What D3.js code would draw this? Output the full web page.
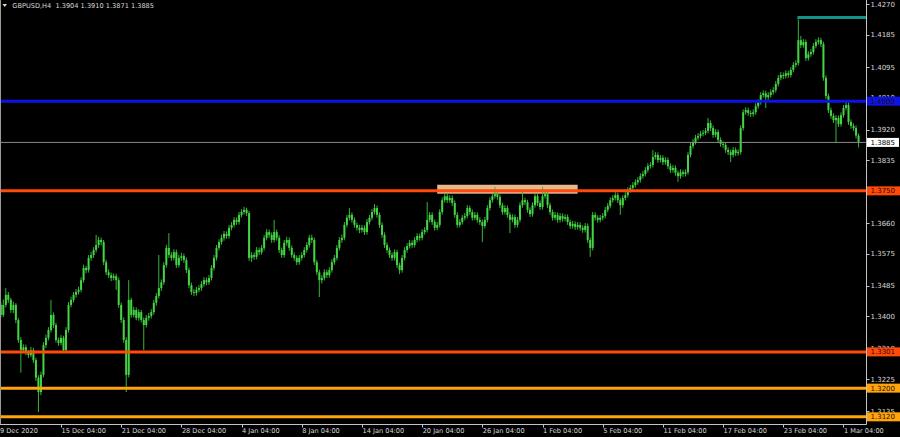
<!DOCTYPE html>
<html><head><meta charset="utf-8">
<script src="https://cdn.jsdelivr.net/npm/d3@7/dist/d3.min.js"></script>
<style>body{margin:0;background:#000;overflow:hidden}svg{display:block}</style>
</head><body>
<svg id="chart" width="900" height="437"></svg>
<script>
// ---- DATA (GBPUSD H4, bar 0 = 9 Dec 2020 00:00) ----
const titleText = "GBPUSD,H4  1.3904 1.3910 1.3871 1.3885";
const open = [
1.3420,1.3432,1.3404,1.3432,1.3460,1.3446,1.3418,1.3432,1.3390,1.3334,
1.3306,1.3314,1.3300,1.3292,1.3306,1.3278,1.3229,1.3189,1.3237,1.3320,
1.3340,1.3362,1.3404,1.3376,1.3334,1.3326,1.3340,1.3306,1.3362,1.3432,
1.3446,1.3460,1.3468,1.3474,1.3501,1.3535,1.3529,1.3563,1.3571,1.3585,
1.3599,1.3613,1.3607,1.3551,1.3523,1.3515,1.3507,1.3512,1.3501,1.3432,
1.3390,1.3334,1.3237,1.3446,1.3404,1.3418,1.3396,1.3412,1.3390,1.3376,
1.3396,1.3401,1.3412,1.3438,1.3457,1.3479,1.3495,1.3543,1.3591,1.3571,
1.3563,1.3579,1.3543,1.3563,1.3568,1.3557,1.3529,1.3487,1.3468,1.3466,
1.3474,1.3479,1.3490,1.3501,1.3495,1.3507,1.3535,1.3563,1.3591,1.3607,
1.3619,1.3630,1.3624,1.3647,1.3655,1.3669,1.3663,1.3683,1.3691,1.3697,
1.3688,1.3563,1.3571,1.3566,1.3585,1.3579,1.3591,1.3619,1.3635,1.3627,
1.3613,1.3635,1.3619,1.3585,1.3571,1.3605,1.3613,1.3591,1.3571,1.3563,
1.3551,1.3563,1.3571,1.3585,1.3599,1.3619,1.3613,1.3551,1.3523,1.3501,
1.3507,1.3523,1.3515,1.3529,1.3551,1.3563,1.3591,1.3613,1.3619,1.3655,
1.3675,1.3683,1.3669,1.3655,1.3647,1.3641,1.3647,1.3635,1.3663,1.3675,
1.3691,1.3702,1.3683,1.3655,1.3627,1.3599,1.3585,1.3571,1.3563,1.3579,
1.3543,1.3529,1.3563,1.3585,1.3596,1.3605,1.3599,1.3613,1.3624,1.3619,
1.3635,1.3641,1.3669,1.3683,1.3663,1.3647,1.3655,1.3691,1.3724,1.3735,
1.3724,1.3730,1.3716,1.3683,1.3655,1.3663,1.3675,1.3680,1.3702,1.3691,
1.3675,1.3683,1.3669,1.3663,1.3652,1.3669,1.3702,1.3724,1.3735,1.3741,
1.3733,1.3710,1.3691,1.3702,1.3683,1.3669,1.3677,1.3655,1.3669,1.3710,
1.3724,1.3718,1.3697,1.3685,1.3710,1.3735,1.3716,1.3705,1.3735,1.3741,
1.3710,1.3691,1.3675,1.3683,1.3669,1.3680,1.3672,1.3677,1.3663,1.3652,
1.3658,1.3649,1.3655,1.3647,1.3641,1.3652,1.3613,1.3591,1.3683,1.3675,
1.3669,1.3675,1.3680,1.3697,1.3708,1.3724,1.3730,1.3738,1.3724,1.3710,
1.3730,1.3738,1.3752,1.3758,1.3766,1.3774,1.3780,1.3791,1.3797,1.3808,
1.3819,1.3822,1.3844,1.3850,1.3836,1.3842,1.3830,1.3836,1.3819,1.3808,
1.3814,1.3800,1.3791,1.3802,1.3797,1.3802,1.3850,1.3875,1.3886,1.3898,
1.3903,1.3909,1.3912,1.3917,1.3939,1.3925,1.3906,1.3914,1.3892,1.3881,
1.3878,1.3864,1.3858,1.3850,1.3864,1.3855,1.3858,1.3925,1.3969,1.3975,
1.3967,1.3964,1.3969,1.3986,1.3997,1.4017,1.4022,1.4011,1.4017,1.4025,
1.4031,1.4048,1.4065,1.4073,1.4070,1.4078,1.4073,1.4087,1.4101,1.4106,
1.4170,1.4156,1.4165,1.4120,1.4131,1.4137,1.4154,1.4165,1.4170,1.4159,
1.4065,1.4014,1.3975,1.3959,1.3947,1.3953,1.3936,1.3961,1.3981,1.3989,
1.3942,1.3931,1.3925,1.3904];
const high = [
1.3440,1.3441,1.3447,1.3479,1.3468,1.3452,1.3441,1.3437,1.3396,1.3342,
1.3322,1.3321,1.3306,1.3315,1.3312,1.3285,1.3236,1.3246,1.3328,1.3349,
1.3370,1.3446,1.3411,1.3382,1.3341,1.3348,1.3346,1.3370,1.3440,1.3455,
1.3468,1.3476,1.3483,1.3509,1.3544,1.3541,1.3571,1.3580,1.3593,1.3627,
1.3622,1.3620,1.3613,1.3558,1.3531,1.3522,1.3520,1.3519,1.3508,1.3439,
1.3397,1.3342,1.3501,1.3452,1.3427,1.3425,1.3420,1.3418,1.3397,1.3404,
1.3410,1.3420,1.3446,1.3465,1.3571,1.3503,1.3551,1.3600,1.3632,1.3579,
1.3587,1.3586,1.3571,1.3577,1.3575,1.3564,1.3536,1.3494,1.3476,1.3482,
1.3487,1.3498,1.3509,1.3508,1.3515,1.3543,1.3571,1.3599,1.3615,1.3628,
1.3638,1.3637,1.3655,1.3663,1.3677,1.3676,1.3691,1.3699,1.3705,1.3703,
1.3694,1.3579,1.3578,1.3593,1.3592,1.3599,1.3627,1.3643,1.3642,1.3634,
1.3669,1.3642,1.3626,1.3592,1.3613,1.3622,1.3620,1.3598,1.3578,1.3570,
1.3571,1.3579,1.3593,1.3607,1.3627,1.3628,1.3620,1.3558,1.3530,1.3515,
1.3531,1.3530,1.3537,1.3559,1.3571,1.3599,1.3621,1.3628,1.3663,1.3683,
1.3702,1.3690,1.3676,1.3662,1.3655,1.3655,1.3654,1.3671,1.3683,1.3699,
1.3713,1.3709,1.3690,1.3662,1.3634,1.3606,1.3592,1.3578,1.3587,1.3586,
1.3550,1.3571,1.3593,1.3604,1.3613,1.3612,1.3621,1.3632,1.3631,1.3643,
1.3649,1.3719,1.3691,1.3690,1.3670,1.3663,1.3699,1.3732,1.3743,1.3742,
1.3738,1.3737,1.3723,1.3690,1.3671,1.3683,1.3688,1.3710,1.3709,1.3698,
1.3691,1.3690,1.3676,1.3670,1.3677,1.3710,1.3732,1.3743,1.3761,1.3749,
1.3740,1.3717,1.3710,1.3709,1.3690,1.3685,1.3684,1.3677,1.3718,1.3747,
1.3731,1.3725,1.3704,1.3718,1.3743,1.3742,1.3723,1.3761,1.3752,1.3748,
1.3717,1.3698,1.3691,1.3690,1.3688,1.3687,1.3685,1.3684,1.3670,1.3666,
1.3665,1.3663,1.3662,1.3654,1.3660,1.3659,1.3620,1.3691,1.3690,1.3682,
1.3683,1.3688,1.3705,1.3716,1.3732,1.3738,1.3746,1.3745,1.3731,1.3738,
1.3746,1.3760,1.3766,1.3774,1.3782,1.3788,1.3799,1.3805,1.3816,1.3827,
1.3830,1.3864,1.3858,1.3857,1.3850,1.3849,1.3844,1.3843,1.3826,1.3822,
1.3821,1.3807,1.3810,1.3809,1.3810,1.3858,1.3883,1.3894,1.3906,1.3911,
1.3917,1.3920,1.3925,1.3953,1.3946,1.3932,1.3922,1.3921,1.3899,1.3888,
1.3885,1.3871,1.3865,1.3872,1.3871,1.3866,1.3933,1.3977,1.3983,1.3982,
1.3974,1.3977,1.3994,1.4005,1.4025,1.4030,1.4029,1.4025,1.4033,1.4039,
1.4056,1.4073,1.4081,1.4080,1.4086,1.4085,1.4095,1.4109,1.4114,1.4228,
1.4182,1.4173,1.4172,1.4139,1.4145,1.4162,1.4173,1.4178,1.4177,1.4166,
1.4072,1.4021,1.3982,1.3966,1.3961,1.3960,1.3969,1.3989,1.3997,1.3996,
1.3949,1.3938,1.3932,1.3910];
const low = [
1.3412,1.3396,1.3398,1.3425,1.3438,1.3410,1.3409,1.3381,1.3326,1.3243,
1.3298,1.3292,1.3284,1.3286,1.3270,1.3220,1.3133,1.3180,1.3230,1.3312,
1.3333,1.3355,1.3368,1.3327,1.3318,1.3319,1.3298,1.3300,1.3355,1.3425,
1.3439,1.3452,1.3461,1.3467,1.3494,1.3520,1.3522,1.3555,1.3563,1.3578,
1.3591,1.3598,1.3543,1.3515,1.3507,1.3498,1.3500,1.3474,1.3424,1.3382,
1.3326,1.3189,1.3230,1.3396,1.3397,1.3389,1.3388,1.3383,1.3306,1.3369,
1.3388,1.3394,1.3405,1.3430,1.3450,1.3471,1.3488,1.3536,1.3563,1.3555,
1.3556,1.3535,1.3536,1.3555,1.3549,1.3521,1.3479,1.3460,1.3457,1.3458,
1.3467,1.3471,1.3483,1.3487,1.3488,1.3500,1.3528,1.3556,1.3584,1.3600,
1.3611,1.3616,1.3617,1.3640,1.3648,1.3655,1.3656,1.3676,1.3684,1.3680,
1.3555,1.3552,1.3558,1.3559,1.3571,1.3572,1.3584,1.3612,1.3619,1.3605,
1.3606,1.3611,1.3577,1.3563,1.3564,1.3597,1.3583,1.3563,1.3555,1.3543,
1.3544,1.3556,1.3564,1.3578,1.3592,1.3605,1.3543,1.3515,1.3454,1.3492,
1.3500,1.3507,1.3508,1.3522,1.3544,1.3556,1.3584,1.3605,1.3612,1.3648,
1.3668,1.3661,1.3647,1.3639,1.3632,1.3634,1.3627,1.3628,1.3656,1.3668,
1.3684,1.3675,1.3647,1.3619,1.3591,1.3577,1.3563,1.3555,1.3556,1.3535,
1.3518,1.3522,1.3556,1.3578,1.3589,1.3591,1.3592,1.3606,1.3611,1.3612,
1.3628,1.3634,1.3662,1.3655,1.3639,1.3640,1.3648,1.3684,1.3717,1.3716,
1.3717,1.3708,1.3675,1.3647,1.3648,1.3656,1.3668,1.3673,1.3683,1.3667,
1.3668,1.3661,1.3655,1.3607,1.3645,1.3662,1.3695,1.3717,1.3728,1.3725,
1.3702,1.3683,1.3684,1.3675,1.3632,1.3662,1.3647,1.3648,1.3662,1.3703,
1.3710,1.3689,1.3677,1.3678,1.3703,1.3708,1.3697,1.3698,1.3728,1.3702,
1.3683,1.3667,1.3668,1.3661,1.3662,1.3664,1.3665,1.3655,1.3644,1.3645,
1.3641,1.3642,1.3639,1.3633,1.3634,1.3605,1.3566,1.3584,1.3667,1.3661,
1.3662,1.3668,1.3673,1.3690,1.3701,1.3717,1.3723,1.3716,1.3683,1.3703,
1.3723,1.3731,1.3745,1.3751,1.3759,1.3767,1.3773,1.3784,1.3790,1.3801,
1.3812,1.3815,1.3837,1.3828,1.3829,1.3822,1.3823,1.3811,1.3800,1.3801,
1.3792,1.3775,1.3784,1.3789,1.3790,1.3795,1.3843,1.3868,1.3879,1.3891,
1.3896,1.3902,1.3905,1.3910,1.3917,1.3898,1.3899,1.3884,1.3873,1.3870,
1.3856,1.3850,1.3830,1.3843,1.3847,1.3848,1.3851,1.3918,1.3962,1.3959,
1.3956,1.3957,1.3962,1.3979,1.3990,1.4010,1.3981,1.4004,1.4010,1.4018,
1.4024,1.4041,1.4058,1.4062,1.4063,1.4065,1.4066,1.4080,1.4094,1.4099,
1.4148,1.4149,1.4112,1.4113,1.4124,1.4130,1.4147,1.4158,1.4151,1.4057,
1.4006,1.3967,1.3951,1.3939,1.3886,1.3928,1.3929,1.3954,1.3974,1.3934,
1.3923,1.3917,1.3896,1.3871];
const close = [
1.3432,1.3404,1.3432,1.3460,1.3446,1.3418,1.3432,1.3390,1.3334,1.3306,
1.3314,1.3300,1.3292,1.3306,1.3278,1.3229,1.3189,1.3237,1.3320,1.3340,
1.3362,1.3404,1.3376,1.3334,1.3326,1.3340,1.3306,1.3362,1.3432,1.3446,
1.3460,1.3468,1.3474,1.3501,1.3535,1.3529,1.3563,1.3571,1.3585,1.3599,
1.3613,1.3607,1.3551,1.3523,1.3515,1.3507,1.3512,1.3501,1.3432,1.3390,
1.3334,1.3237,1.3446,1.3404,1.3418,1.3396,1.3412,1.3390,1.3376,1.3396,
1.3401,1.3412,1.3438,1.3457,1.3479,1.3495,1.3543,1.3591,1.3571,1.3563,
1.3579,1.3543,1.3563,1.3568,1.3557,1.3529,1.3487,1.3468,1.3466,1.3474,
1.3479,1.3490,1.3501,1.3495,1.3507,1.3535,1.3563,1.3591,1.3607,1.3619,
1.3630,1.3624,1.3647,1.3655,1.3669,1.3663,1.3683,1.3691,1.3697,1.3688,
1.3563,1.3571,1.3566,1.3585,1.3579,1.3591,1.3619,1.3635,1.3627,1.3613,
1.3635,1.3619,1.3585,1.3571,1.3605,1.3613,1.3591,1.3571,1.3563,1.3551,
1.3563,1.3571,1.3585,1.3599,1.3619,1.3613,1.3551,1.3523,1.3501,1.3507,
1.3523,1.3515,1.3529,1.3551,1.3563,1.3591,1.3613,1.3619,1.3655,1.3675,
1.3683,1.3669,1.3655,1.3647,1.3641,1.3647,1.3635,1.3663,1.3675,1.3691,
1.3702,1.3683,1.3655,1.3627,1.3599,1.3585,1.3571,1.3563,1.3579,1.3543,
1.3529,1.3563,1.3585,1.3596,1.3605,1.3599,1.3613,1.3624,1.3619,1.3635,
1.3641,1.3669,1.3683,1.3663,1.3647,1.3655,1.3691,1.3724,1.3735,1.3724,
1.3730,1.3716,1.3683,1.3655,1.3663,1.3675,1.3680,1.3702,1.3691,1.3675,
1.3683,1.3669,1.3663,1.3652,1.3669,1.3702,1.3724,1.3735,1.3741,1.3733,
1.3710,1.3691,1.3702,1.3683,1.3669,1.3677,1.3655,1.3669,1.3710,1.3724,
1.3718,1.3697,1.3685,1.3710,1.3735,1.3716,1.3705,1.3735,1.3741,1.3710,
1.3691,1.3675,1.3683,1.3669,1.3680,1.3672,1.3677,1.3663,1.3652,1.3658,
1.3649,1.3655,1.3647,1.3641,1.3652,1.3613,1.3591,1.3683,1.3675,1.3669,
1.3675,1.3680,1.3697,1.3708,1.3724,1.3730,1.3738,1.3724,1.3710,1.3730,
1.3738,1.3752,1.3758,1.3766,1.3774,1.3780,1.3791,1.3797,1.3808,1.3819,
1.3822,1.3844,1.3850,1.3836,1.3842,1.3830,1.3836,1.3819,1.3808,1.3814,
1.3800,1.3791,1.3802,1.3797,1.3802,1.3850,1.3875,1.3886,1.3898,1.3903,
1.3909,1.3912,1.3917,1.3939,1.3925,1.3906,1.3914,1.3892,1.3881,1.3878,
1.3864,1.3858,1.3850,1.3864,1.3855,1.3858,1.3925,1.3969,1.3975,1.3967,
1.3964,1.3969,1.3986,1.3997,1.4017,1.4022,1.4011,1.4017,1.4025,1.4031,
1.4048,1.4065,1.4073,1.4070,1.4078,1.4073,1.4087,1.4101,1.4106,1.4170,
1.4156,1.4165,1.4120,1.4131,1.4137,1.4154,1.4165,1.4170,1.4159,1.4065,
1.4014,1.3975,1.3959,1.3947,1.3953,1.3936,1.3961,1.3981,1.3989,1.3942,
1.3931,1.3925,1.3904,1.3885];

const priceTicks = [1.4270,1.4185,1.4095,1.4010,1.3920,1.3835,1.3750,1.3660,1.3575,1.3485,1.3400,1.3310,1.3225,1.3135];
const timeLabels = ["9 Dec 2020","15 Dec 04:00","21 Dec 04:00","28 Dec 04:00","4 Jan 04:00","8 Jan 04:00","14 Jan 04:00","20 Jan 04:00","26 Jan 04:00","1 Feb 04:00","5 Feb 04:00","11 Feb 04:00","17 Feb 04:00","23 Feb 04:00","1 Mar 04:00"];
const timeLabelBars = [0,25,49,73,97,121,145,169,193,217,241,265,289,313,337];

// horizontal levels (price lines)
const levelPrices = [1.4000, 1.3750, 1.3301, 1.3200, 1.3120];
const levelLabels = ["1.4000","1.3750","1.3301","1.3200","1.3120"];
const lastPrice = 1.3885;
// objects
const resistanceTrendPrice = 1.4233;   // teal ray
const resistanceTrendStartBar = 319;
const zoneBars = [175, 231];           // tan rectangle time span
const zonePrices = [1.3742, 1.3767];

// ---- STYLE ----
const levelColors = ["#0a14e6", "#ff4a0a", "#ff4a0a", "#ffa40a", "#ffa40a"];
const W = 900, H = 437, plotR = 866, plotB = 424;
const font = "DejaVu Sans, Verdana, sans-serif";
const txt = "#d8d8d8";

const svg = d3.select("#chart");
svg.append("rect").attr("width", W).attr("height", H).attr("fill", "#000");

const nBars = close.length;
const x = d3.scaleLinear().domain([0, nBars - 1]).range([-1.70, -1.70 + (nBars - 1) * 2.508]);
const y = d3.scaleLinear().domain([1.3100, 1.4282]).range([plotB, 0]);

const defs = svg.append("defs");
defs.append("clipPath").attr("id", "plot").append("rect")
  .attr("x", 0).attr("y", 0).attr("width", plotR).attr("height", plotB);

const plot = svg.append("g").attr("clip-path", "url(#plot)");

// rectangle zone (background)
plot.append("rect")
  .attr("x", x(zoneBars[0])).attr("width", x(zoneBars[1]) - x(zoneBars[0]))
  .attr("y", y(zonePrices[1])).attr("height", y(zonePrices[0]) - y(zonePrices[1]))
  .attr("fill", "#e4b98e");

// candles
const bars = d3.range(nBars).map(i => ({i, o: open[i], h: high[i], l: low[i], c: close[i]}));
plot.append("g").selectAll("line").data(bars).join("line")
  .attr("x1", d => x(d.i)).attr("x2", d => x(d.i))
  .attr("y1", d => y(d.h)).attr("y2", d => y(d.l))
  .attr("stroke", "#34b834").attr("stroke-width", 1);
plot.append("g").selectAll("rect").data(bars).join("rect")
  .attr("x", d => x(d.i) - 1.0).attr("width", 2.0)
  .attr("y", d => y(Math.max(d.o, d.c)))
  .attr("height", d => Math.max(1, Math.abs(y(d.o) - y(d.c))))
  .attr("fill", "#44d444");

// last price line
plot.append("line").attr("x1", 0).attr("x2", plotR)
  .attr("y1", y(lastPrice)).attr("y2", y(lastPrice))
  .attr("stroke", "#8a8a8a").attr("stroke-width", 1);

// level lines
plot.append("g").selectAll("line").data(levelPrices).join("line")
  .attr("x1", 0).attr("x2", plotR)
  .attr("y1", d => y(d)).attr("y2", d => y(d))
  .attr("stroke", (d, i) => levelColors[i]).attr("stroke-width", 3);

// teal ray
plot.append("line").attr("x1", x(resistanceTrendStartBar) - 1).attr("x2", plotR)
  .attr("y1", y(resistanceTrendPrice)).attr("y2", y(resistanceTrendPrice))
  .attr("stroke", "#13908a").attr("stroke-width", 3);

// axes frame
svg.append("line").attr("x1", plotR + 0.5).attr("x2", plotR + 0.5).attr("y1", 0).attr("y2", plotB + 0.5)
  .attr("stroke", "#c4c4c4").attr("stroke-width", 1);
svg.append("line").attr("x1", 0).attr("x2", plotR + 0.5).attr("y1", plotB + 0.5).attr("y2", plotB + 0.5)
  .attr("stroke", "#c4c4c4").attr("stroke-width", 1);
svg.append("line").attr("x1", 0.5).attr("x2", 0.5).attr("y1", 0).attr("y2", plotB)
  .attr("stroke", "#9a9a9a").attr("stroke-width", 1);

// price ticks
const yAx = svg.append("g");
yAx.selectAll("line").data(priceTicks).join("line")
  .attr("x1", plotR).attr("x2", plotR + 3.5)
  .attr("y1", d => Math.round(y(d)) + 0.5).attr("y2", d => Math.round(y(d)) + 0.5)
  .attr("stroke", "#c4c4c4");
yAx.selectAll("text").data(priceTicks).join("text")
  .attr("x", 870.5).attr("y", d => y(d)).attr("dy", "0.35em")
  .attr("font-family", font).attr("font-size", 7).attr("fill", txt)
  .text(d => d.toFixed(4));

// time ticks
const xAx = svg.append("g");
xAx.selectAll("line").data(timeLabelBars).join("line")
  .attr("x1", d => Math.round(x(d)) + 0.5).attr("x2", d => Math.round(x(d)) + 0.5)
  .attr("y1", plotB).attr("y2", plotB + 3.5)
  .attr("stroke", "#c4c4c4");
xAx.selectAll("text").data(timeLabels).join("text")
  .attr("x", (d, i) => Math.max(0, x(timeLabelBars[i]) + 0.5)).attr("y", 431).attr("dy", "0.35em")
  .attr("font-family", font).attr("font-size", 6.6).attr("fill", txt)
  .text(d => d);

// level labels on price scale
const lab = svg.append("g");
levelPrices.forEach((p, i) => {
  lab.append("rect").attr("x", plotR + 1).attr("y", y(p) - 4.5).attr("width", 33).attr("height", 9)
    .attr("fill", levelColors[i]);
  lab.append("text").attr("x", 870.5).attr("y", y(p)).attr("dy", "0.35em")
    .attr("font-family", font).attr("font-size", 7).attr("fill", "#2a0a00")
    .text(levelLabels[i]);
});
lab.append("rect").attr("x", plotR + 1).attr("y", y(lastPrice) - 4.5).attr("width", 32).attr("height", 9)
  .attr("fill", "#ffffff");
lab.append("text").attr("x", 870.5).attr("y", y(lastPrice)).attr("dy", "0.35em")
  .attr("font-family", font).attr("font-size", 7).attr("fill", "#000")
  .text(lastPrice.toFixed(4));

// title
svg.append("path").attr("d", "M2.5,4 L7,4 L4.75,7 Z").attr("fill", txt);
svg.append("text").attr("x", 12.3).attr("y", 6).attr("dy", "0.35em")
  .attr("font-family", font).attr("font-size", 6.6).attr("fill", txt)
  .attr("xml:space", "preserve").style("white-space", "pre")
  .text(titleText);
</script>
</body></html>
